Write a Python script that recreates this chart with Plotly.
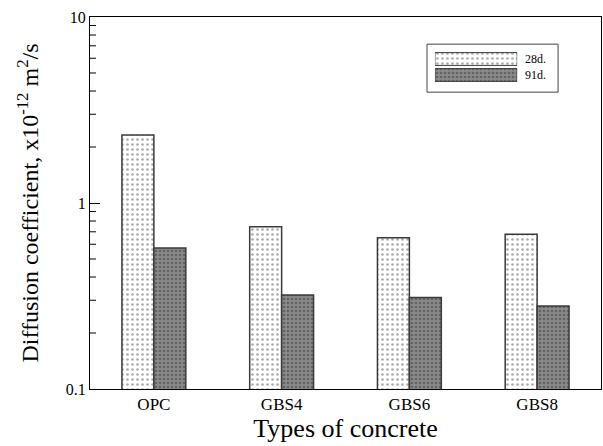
import plotly.graph_objects as go

# Chloride diffusion coefficient by concrete type and curing age
concrete_types = ["OPC", "GBS4", "GBS6", "GBS8"]
d_28 = [2.32, 0.746, 0.650, 0.679]
d_91 = [0.573, 0.320, 0.310, 0.279]
series_names = ["28d.", "91d."]
y_tick_vals = [0.1, 1, 10]
y_tick_text = ["0.1", "1", "10"]
y_minor_vals = [m * d for d in (0.1, 1) for m in range(2, 10)]

FONT = "Liberation Serif"
EDGE = "#3a3a3a"

pat_28 = dict(shape=".", bgcolor="white", fgcolor="#555555", size=5, solidity=0.22)
pat_91 = dict(shape=".", bgcolor="#8a8a8a", fgcolor="#3c3c3c", size=4, solidity=0.35)

fig = go.Figure()
fig.add_trace(go.Bar(
    x=concrete_types, y=d_28, name=series_names[0],
    marker=dict(color="white", pattern=pat_28, line=dict(color=EDGE, width=1.5)),
    showlegend=False,
))
fig.add_trace(go.Bar(
    x=concrete_types, y=d_91, name=series_names[1],
    marker=dict(color="#8a8a8a", pattern=pat_91, line=dict(color=EDGE, width=1.5)),
    showlegend=False,
))

# Legend swatches drawn in a small inset axis
fig.add_trace(go.Bar(
    x=[1], y=[series_names[0]], orientation="h", width=0.8,
    marker=dict(color="white", pattern=pat_28, line=dict(color=EDGE, width=1)),
    xaxis="x2", yaxis="y2", showlegend=False, hoverinfo="skip",
))
fig.add_trace(go.Bar(
    x=[1], y=[series_names[1]], orientation="h", width=0.8,
    marker=dict(color="#8a8a8a", pattern=pat_91, line=dict(color=EDGE, width=1)),
    xaxis="x2", yaxis="y2", showlegend=False, hoverinfo="skip",
))

# short inside minor ticks on the log axis
minor_tick_shapes = [
    dict(type="line", xref="paper", yref="y",
         x0=0, x1=6 / 511, y0=v, y1=v,
         line=dict(color="black", width=1))
    for v in y_minor_vals
]
legend_box = dict(type="rect", xref="paper", yref="paper",
                  x0=0.6595, x1=0.916, y0=0.798, y1=0.927,
                  line=dict(color="#444444", width=1), fillcolor="rgba(0,0,0,0)", layer="below")

fig.update_layout(
    width=603, height=446,
    margin=dict(l=90, r=2, t=17, b=57),
    paper_bgcolor="white", plot_bgcolor="white",
    barmode="group", bargap=0.5, bargroupgap=0,
    font=dict(family=FONT, color="black"),
    xaxis=dict(
        range=[-0.5, 3.5], showline=True, linecolor="black", linewidth=1, mirror=True,
        ticks="", tickfont=dict(size=17, family=FONT),
        title=dict(text="Types of concrete", font=dict(size=26, family=FONT), standoff=2),
    ),
    yaxis=dict(
        type="log", range=[-1, 1], showline=True, linecolor="black", linewidth=1, mirror=True,
        showgrid=False, zeroline=False,
        tickmode="array", tickvals=y_tick_vals, ticktext=y_tick_text,
        ticks="inside", ticklen=10,
        tickcolor="black", tickfont=dict(size=16, family=FONT),
        title=dict(text="Diffusion coefficient, x10<sup>-12</sup> m<sup>2</sup>/s",
                   font=dict(size=24, family=FONT), standoff=20),
    ),
    xaxis2=dict(domain=[0.675, 0.836], range=[0, 1], anchor="y2", visible=False, fixedrange=True),
    yaxis2=dict(domain=[0.8226, 0.9086], range=[-0.5, 1.5], anchor="x2", visible=False,
                categoryorder="array", categoryarray=[series_names[1], series_names[0]],
                fixedrange=True),
    shapes=minor_tick_shapes + [legend_box],
    annotations=[
        dict(text=series_names[0], xref="paper", yref="paper", x=0.848, y=0.887,
             xanchor="left", yanchor="middle", showarrow=False, font=dict(size=12, family=FONT)),
        dict(text=series_names[1], xref="paper", yref="paper", x=0.848, y=0.844,
             xanchor="left", yanchor="middle", showarrow=False, font=dict(size=12, family=FONT)),
    ],
)

fig.write_html("out.html")
